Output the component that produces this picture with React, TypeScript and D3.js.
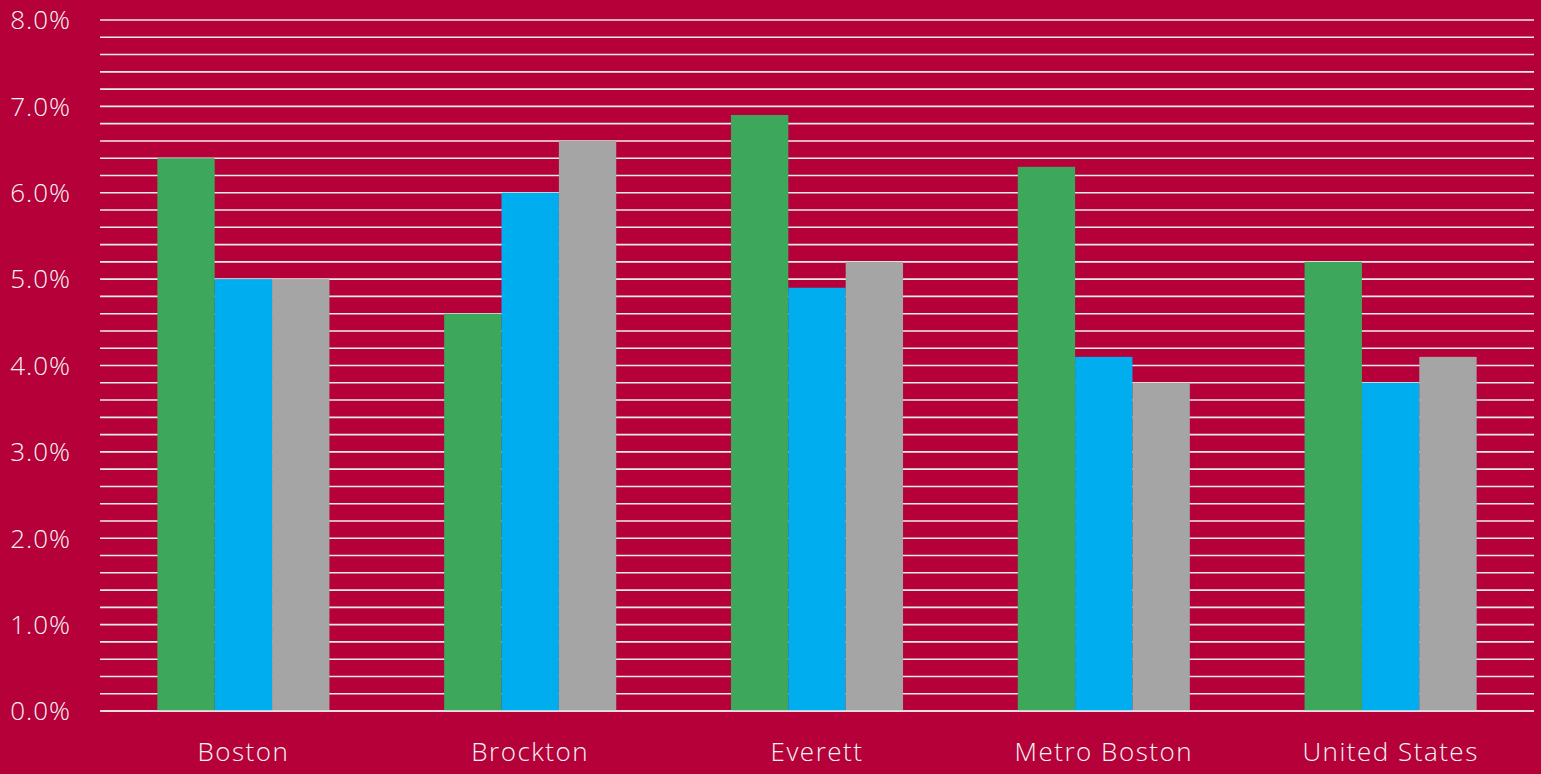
import React from "react";
import * as d3 from "d3";

const categories = ["Boston", "Brockton", "Everett", "Metro Boston", "United States"];
const seriesNames = ["Series 1", "Series 2", "Series 3"];
const series1 = [6.4, 4.6, 6.9, 6.3, 5.2];
const series2 = [5.0, 6.0, 4.9, 4.1, 3.8];
const series3 = [5.0, 6.6, 5.2, 3.8, 4.1];
const seriesColors = ["#3DA85C", "#00ADEF", "#A5A5A5"];
const majorTicks = [0, 1, 2, 3, 4, 5, 6, 7, 8];

const W = 1541;
const H = 774;
const margin = { left: 100, right: 7, top: 20, bottom: 63 };

export default function App() {
  const x = d3.scaleBand<string>().domain(categories).range([margin.left, W - margin.right]).padding(0);
  const bw = x.bandwidth();
  const xi = d3.scaleBand<string>().domain(seriesNames).range([bw * 0.2, bw * 0.8]).padding(0);
  const y = d3.scaleLinear().domain([0, 8]).range([H - margin.bottom, margin.top]);
  const minor = d3.range(0, 8.0001, 0.2);
  const data = [series1, series2, series3];
  const font = "'Open Sans', sans-serif";
  return (
    <svg width={W} height={H} style={{ position: "absolute", left: 0, top: 0, background: "#B5003A" }}>
      <rect x={0} y={0} width={W} height={H} fill="#B5003A" />
      {minor.map((v, i) => (
        <line key={i} x1={margin.left} x2={W - margin.right} y1={y(v)} y2={y(v)} stroke="#ECECEC" strokeWidth={1.6} />
      ))}
      {data.map((vals, s) =>
        categories.map((c, i) => (
          <rect
            key={s + "-" + i}
            x={(x(c) as number) + (xi(seriesNames[s]) as number)}
            y={y(vals[i])}
            width={xi.bandwidth()}
            height={y(0) - y(vals[i])}
            fill={seriesColors[s]}
          />
        ))
      )}
      <line x1={margin.left} x2={W - margin.right} y1={y(0)} y2={y(0)} stroke="#ECECEC" strokeWidth={1.6} />
      {majorTicks.map((t) => (
        <text key={t} x={71} y={y(t)} dy="0.36em" textAnchor="end" fill="#F4F4F4" fontFamily={font} fontWeight={300} fontSize={26} letterSpacing={1}>
          {t.toFixed(1) + "%"}
        </text>
      ))}
      {categories.map((c) => (
        <text key={c} x={(x(c) as number) + bw / 2} y={761} textAnchor="middle" fill="#F4F4F4" fontFamily={font} fontWeight={300} fontSize={26} letterSpacing={1.5}>
          {c}
        </text>
      ))}
    </svg>
  );
}
